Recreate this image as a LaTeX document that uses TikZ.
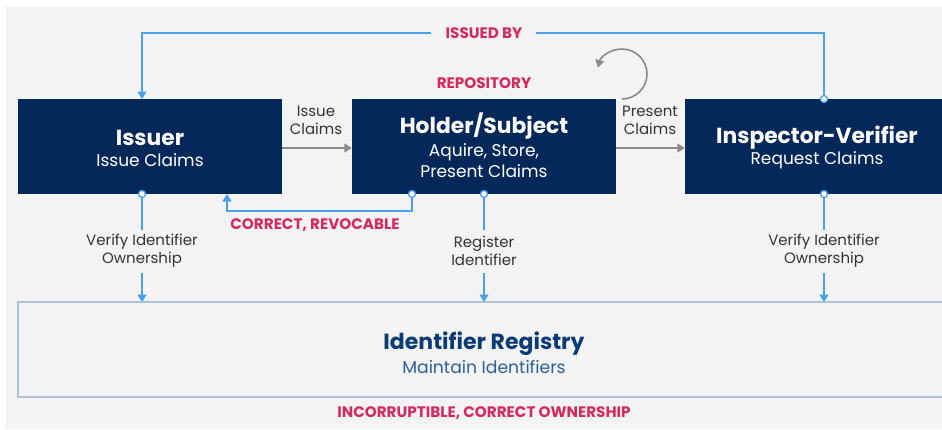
\documentclass[tikz,border=0pt]{standalone}
\usepackage{fontspec}
\setmainfont{Poppins}
\usetikzlibrary{arrows.meta}
\definecolor{navy}{HTML}{05285A}
\definecolor{lblue}{HTML}{4A9FE8}
\definecolor{accent}{HTML}{D22A5D}
\definecolor{bggray}{HTML}{F3F3F3}
\definecolor{arrgray}{HTML}{8A8A8A}
\definecolor{regborder}{HTML}{AEC3D8}
\definecolor{regtitle}{HTML}{0B3B75}
\definecolor{regsub}{HTML}{2E5E9A}
\definecolor{labgray}{HTML}{333333}
\tikzset{
  navybox/.style={fill=navy, draw=none, minimum height=95pt, inner sep=0pt},
  boxtitle/.style={text=white, font=\fontsize{21.8}{26}\selectfont\bfseries, inner sep=0pt},
  boxsub/.style={text=white, font=\fontsize{17}{21}\selectfont, align=center, inner sep=0pt},
  lab/.style={text=labgray, font=\fontsize{15}{18}\selectfont, align=center, inner sep=0pt},
  redlab/.style={text=accent, font=\fontsize{15.2}{17}\selectfont\bfseries, inner sep=0pt},
  bline/.style={draw=lblue, line width=1.6pt},
  barrow/.style={bline, -{Triangle[width=9pt,length=7.5pt]}},
  garrow/.style={draw=arrgray, line width=1.6pt, -{Triangle[width=9pt,length=7.5pt]}},
  port/.style={circle, draw=lblue, fill=white, line width=1.3pt, minimum size=7pt, inner sep=0pt},
}
\begin{document}
\begin{tikzpicture}[x=1pt,y=-1pt]
\useasboundingbox (0,0) rectangle (942,429);
\clip (0,0) rectangle (942,429);
\fill[bggray] (6,7) rectangle (960,429);

% boxes
\node[navybox, minimum width=264pt] (issuer) at (150,146.5) {};
\node[navybox, minimum width=263.5pt] (holder) at (483.75,146.5) {};
\node[navybox, minimum width=265pt] (inspector) at (817.5,146.5) {};
\node[draw=regborder, line width=1.3pt, minimum width=932pt, minimum height=95pt, inner sep=0pt] (registry) at (484,349.5) {};

% box texts
\node[boxtitle] (issuerT) at (150,138) {Issuer};
\node[boxsub] (issuerS) at (150,160) {Issue Claims};
\node[boxtitle] (holderT) at (484,126) {Holder/Subject};
\node[boxsub] (holderS) at (484,160.5) {Aquire, Store,\\Present Claims};
\node[boxtitle] (inspT) at (817,138) {Inspector-Verifier};
\node[boxsub] (inspS) at (817,160) {Request Claims};
\node[text=regtitle, font=\fontsize{22}{26}\selectfont\bfseries, inner sep=0pt] (regT) at (484,344) {Identifier Registry};
\node[text=regsub, font=\fontsize{17.2}{21}\selectfont, inner sep=0pt] (regS) at (484,367) {Maintain Identifiers};

% red labels
\node[redlab] (issuedby) at (484,33) {ISSUED BY};
\node[redlab] (repo) at (484,83) {REPOSITORY};
\node[redlab] (correct) at (315,225) {CORRECT, REVOCABLE};
\node[redlab] (incorr) at (484,413) {INCORRUPTIBLE, CORRECT OWNERSHIP};

% ports
\node[port] (pIssB) at (142,194) {};
\node[port] (pHolB) at (484,194) {};
\node[port] (pHolC) at (412,194) {};
\node[port] (pInsB) at (824,194) {};
\node[port] (pInsT) at (824,99) {};

% issued-by loop
\coordinate (ibR) at (536,33);
\coordinate (ibL) at (431,33);
\coordinate (issTop) at (142,99);
\draw[bline] (pInsT) |- (ibR);
\draw[barrow] (ibL) -| (issTop);

% correct, revocable
\coordinate (issC) at (227,194);
\draw[barrow] (pHolC) -- (412,211) -| (issC);

% claims arrows
\draw[garrow] (issuer.east |- 0,148) -- (holder.west |- 0,148);
\draw[garrow] (holder.east |- 0,148) -- (inspector.west |- 0,148);
\node[lab] (issueL) at (316,120) {Issue\\Claims};
\node[lab] (presentL) at (650,120) {Present\\Claims};

% self loop
\coordinate (loopS) at (622,99);
\draw[garrow] (loopS) arc[start angle=90, end angle=-165, radius=25];

% verify / register
\node[lab] (verL) at (142,251) {Verify Identifier\\Ownership};
\node[lab] (regL) at (484,251) {Register\\Identifier};
\node[lab] (verR) at (824,251) {Verify Identifier\\Ownership};
\draw[bline] (pIssB) -- (142,230);
\draw[bline] (pHolB) -- (484,230);
\draw[bline] (pInsB) -- (824,230);
\draw[barrow] (142,273) -- (142,302);
\draw[barrow] (484,273) -- (484,302);
\draw[barrow] (824,273) -- (824,302);
\end{tikzpicture}
\end{document}
